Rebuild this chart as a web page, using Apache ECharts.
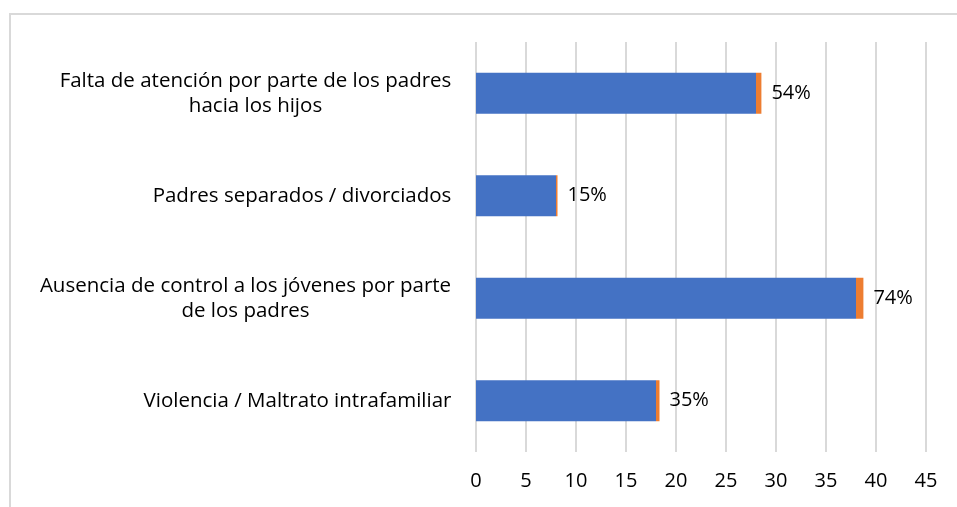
<!DOCTYPE html>
<html>
<head>
<meta charset="utf-8">
<script src="https://cdn.jsdelivr.net/npm/echarts@6/dist/echarts.min.js"></script>
<style>
  html, body { margin: 0; padding: 0; background: #fff; }
  #chart { width: 957px; height: 507px; }
</style>
</head>
<body>
<div id="chart"></div>
<script>
const categories = [
  'Falta de atención por parte de los padres\nhacia los hijos',
  'Padres separados / divorciados',
  'Ausencia de control a los jóvenes por parte\nde los padres',
  'Violencia / Maltrato intrafamiliar'
]
const counts = [28, 8, 38, 18]
const shares = [0.54, 0.15, 0.74, 0.35]
const xTicks = { min: 0, max: 45, interval: 5 }

const FONT = '"Open Sans"'
const FONT_SIZE = 20.5

// ancho de cada etiqueta, para centrar las líneas entre sí (como Excel)
const ctx = document.createElement('canvas').getContext('2d')
ctx.font = FONT_SIZE + 'px ' + FONT
const rich = {}
categories.forEach((c, i) => {
  const w = Math.max(...c.split('\n').map(l => ctx.measureText(l).width))
  rich['w' + i] = { width: Math.ceil(w) + 1, align: 'center', fontFamily: FONT, fontSize: FONT_SIZE, color: '#000', lineHeight: 25 }
})

const chart = echarts.init(document.getElementById('chart'))

const option = {
  backgroundColor: '#fff',
  animation: false,
  textStyle: { fontFamily: FONT },
  graphic: [{
    type: 'rect',
    shape: { x: 10, y: 14, width: 2000, height: 2000 },
    style: { fill: 'none', stroke: '#d9d9d9', lineWidth: 2 },
    silent: true
  }],
  grid: { left: 476, right: 31, top: 42, bottom: 55 },
  xAxis: {
    type: 'value',
    min: xTicks.min,
    max: xTicks.max,
    interval: xTicks.interval,
    axisLine: { show: false },
    axisTick: { show: false },
    axisLabel: { color: '#000', fontSize: 20, margin: 19, fontFamily: FONT },
    splitLine: { lineStyle: { color: '#d9d9d9', width: 2 } }
  },
  yAxis: {
    type: 'category',
    inverse: true,
    data: categories,
    axisLine: { show: false },
    axisTick: { show: false },
    axisLabel: {
      margin: 24,
      formatter: (v, i) => v.split('\n').map(l => '{w' + i + '|' + l + '}').join('\n'),
      rich: rich
    }
  },
  series: [
    {
      name: 'Cantidad',
      type: 'bar',
      stack: 'total',
      barCategoryGap: '60%',
      itemStyle: { color: '#4472c4' },
      data: counts
    },
    {
      name: 'Porcentaje',
      type: 'bar',
      stack: 'total',
      barCategoryGap: '60%',
      itemStyle: { color: '#ed7d31' },
      label: {
        show: true,
        position: 'right',
        distance: 10,
        color: '#000',
        fontSize: 20,
        fontFamily: FONT,
        formatter: p => Math.round(p.value * 100) + '%'
      },
      data: shares
    }
  ]
}

chart.setOption(option)
window.addEventListener('resize', () => chart.resize())
</script>
</body>
</html>
